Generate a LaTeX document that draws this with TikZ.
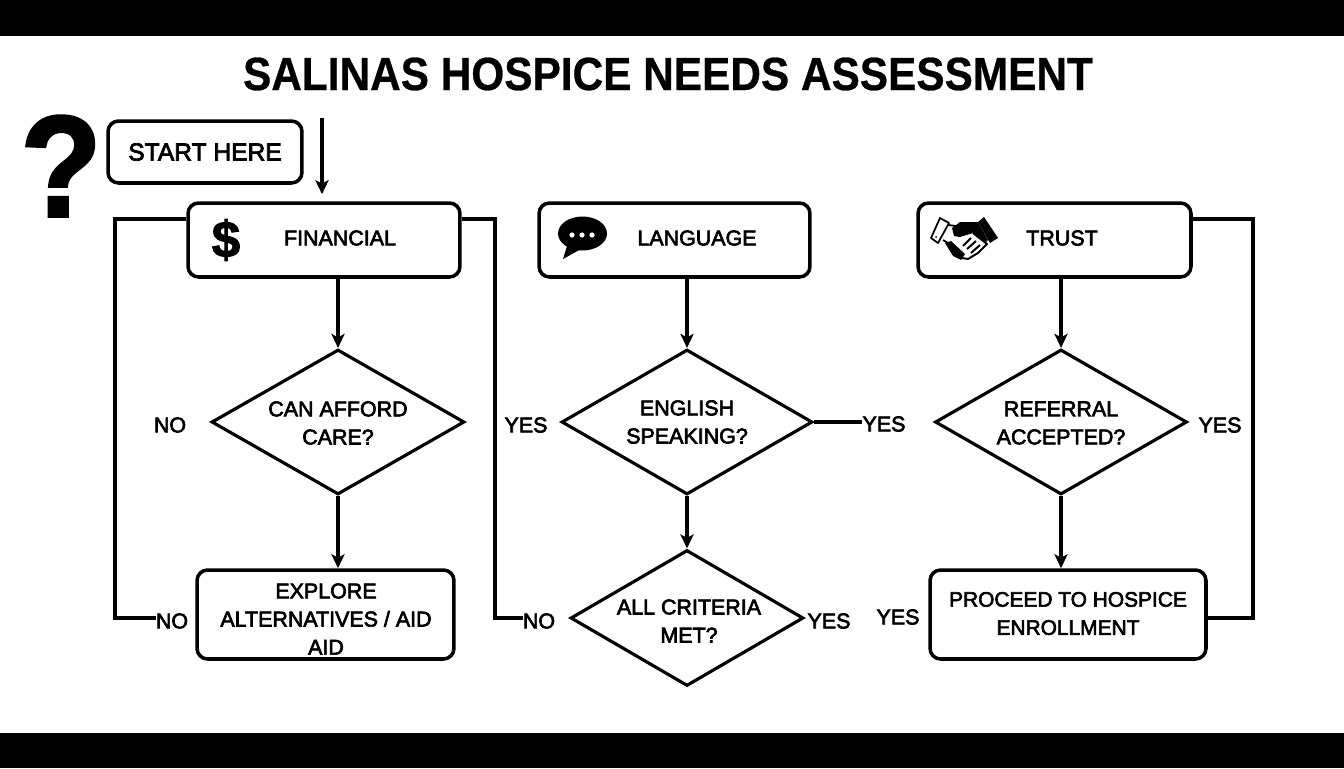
\documentclass[tikz,border=0pt]{standalone}
\usepackage{fontspec}
\setmainfont[BoldFeatures={FakeBold=0.6}]{Liberation Sans}
\newfontfamily\markfont[BoldFeatures={FakeBold=2}]{Liberation Sans}
\newfontfamily\labelfont[FakeBold=3]{Liberation Sans}
\usetikzlibrary{arrows.meta,shapes.geometric}
\tikzset{
    box/.style={draw,rounded corners=6pt,line width=2pt,inner sep=0pt},
    choice/.style={draw,diamond,line width=1.8pt,inner sep=0pt},
    lab/.style={inner sep=0pt,align=center,font=\labelfont\fontsize{12.2}{16}\selectfont},
    line/.style={line width=2pt,line join=miter},
    flow/.style={line,-{Stealth[length=8pt,width=7.5pt,inset=2pt]}},
}
\begin{document}
\begin{tikzpicture}[x=0.02cm,y=-0.02cm]
    \useasboundingbox (0,0) rectangle (1344,768);
    \fill[black] (0,0) rectangle (1344,36);
    \fill[black] (0,733) rectangle (1344,768);
    \node[inner sep=0pt,font=\bfseries\fontsize{26.5}{32}\selectfont] (title) at (668,74) {\scalebox{0.91}[1]{SALINAS HOSPICE NEEDS ASSESSMENT}};
    % top row
    \node[inner sep=0pt,font=\markfont\bfseries\fontsize{82}{90}\selectfont] (mark) at (61,166) {\scalebox{0.92}[1]{?}};
    \node[box,minimum width=3.88cm,minimum height=1.24cm,font=\labelfont\fontsize{14}{16}\selectfont] (start) at (205,152) {START HERE};
    \node[box,minimum width=5.44cm,minimum height=1.48cm] (financial) at (324,240) {};
    \node[box,minimum width=5.42cm,minimum height=1.48cm] (language) at (674.5,240) {};
    \node[box,minimum width=5.46cm,minimum height=1.48cm] (trust) at (1054.5,240) {};
    \node[lab] (financialtext) at (340,238) {FINANCIAL};
    \node[lab] (languagetext) at (697,238) {LANGUAGE};
    \node[lab] (trusttext) at (1062,238) {TRUST};
    \node[inner sep=0pt,font=\markfont\bfseries\fontsize{29}{34}\selectfont] (dollar) at (226,240) {\$};
    % speech bubble
    \fill (582.5,233.5) ellipse (24.5 and 17);
    \fill (567,246) -- (563,259) -- (581,249) -- cycle;
    \foreach \x in {572,582,592}
        \fill[white] (\x,235) circle (2.6);
    % handshake
    \draw[line width=1pt,line join=round] (940,218) -- (949,223) -- (938,243) -- (931,238) -- cycle;
    \fill (936,237) circle (1);
    \fill (984,217) -- (998,238) -- (990,243) -- (978,222) -- cycle;
    \draw[line width=1pt,line join=round] (948,225) -- (956,226) (943,240) -- (948,243);
    \fill (952,228) -- (960,222) -- (978,222) -- (988,240) -- (985,243) -- (973,233) -- (960,237) -- (954,236) -- cycle;
    \draw[line width=1.1pt,line join=round] (973,233) -- (987,244) -- (978,253) -- (968,259) -- (962,258);
    \draw[line width=1.1pt] (976,241) -- (967,249) (980,245) -- (971,253) (971,238) -- (963,246);
    \fill (945,243) -- (951,241) -- (965,254) -- (961,260) -- (953,256) -- cycle;
    % main row
    \node[choice,minimum width=5.06cm,minimum height=2.9cm] (afford) at (338,422) {};
    \node[choice,minimum width=5.02cm,minimum height=2.9cm] (english) at (687,422) {};
    \node[choice,minimum width=5.04cm,minimum height=2.9cm] (referral) at (1061,422) {};
    \node[choice,minimum width=4.66cm,minimum height=2.72cm] (criteria) at (687,618) {};
    \node[box,minimum width=5.14cm,minimum height=1.78cm] (explore) at (325.5,614.5) {};
    \node[box,minimum width=5.52cm,minimum height=1.78cm] (proceed) at (1068,614.5) {};
    \node[lab] (affordtext) at (338,423) {CAN AFFORD\\CARE?};
    \node[lab] (englishtext) at (687,422) {ENGLISH\\SPEAKING?};
    \node[lab] (referraltext) at (1061,423) {REFERRAL\\ACCEPTED?};
    \node[lab] (criteriatext) at (689,621) {ALL CRITERIA\\MET?};
    \node[lab] (exploretext) at (326,619) {EXPLORE\\ALTERNATIVES / AID\\AID};
    \node[lab,font=\labelfont\fontsize{11.9}{16}\selectfont] (proceedtext) at (1068,613.5) {PROCEED TO HOSPICE\\ENROLLMENT};
    \node[lab] (noa) at (170,425) {NO};
    \node[lab] (yesa) at (526,425) {YES};
    \node[lab] (yesb) at (884,424) {YES};
    \node[lab] (yesc) at (1220,425) {YES};
    \node[lab] (nob) at (172,621) {NO};
    \node[lab] (noc) at (539,621) {NO};
    \node[lab] (yesd) at (829,621) {YES};
    \node[lab] (yese) at (898,617) {YES};
    % connectors
    \coordinate (entry) at (322,118);
    \draw[flow] (entry) -- ([yshift=4pt]financial.north -| entry);
    \draw[flow] (financial.south -| afford.north) -- (afford.north);
    \draw[flow] (afford.south) -- (explore.north -| afford.south);
    \draw[flow] (language.south -| english.north) -- (english.north);
    \draw[flow] (english.south) -- (criteria.north);
    \draw[flow] (trust.south -| referral.north) -- (referral.north);
    \draw[flow] (referral.south) -- (proceed.north -| referral.south);
    \draw[line] (financial.west |- 0,219) -- (115,219) -- (115,618) -- (nob.west |- 0,618);
    \draw[line] (financial.east |- 0,219) -- (495,219) -- (495,618) -- (noc.west |- 0,618);
    \draw[line] (english.east) -- (yesb.west |- english.east);
    \draw[line] (trust.east |- 0,219) -- (1253,219) -- (1253,618) -- (proceed.east |- 0,618);
\end{tikzpicture}
\end{document}
